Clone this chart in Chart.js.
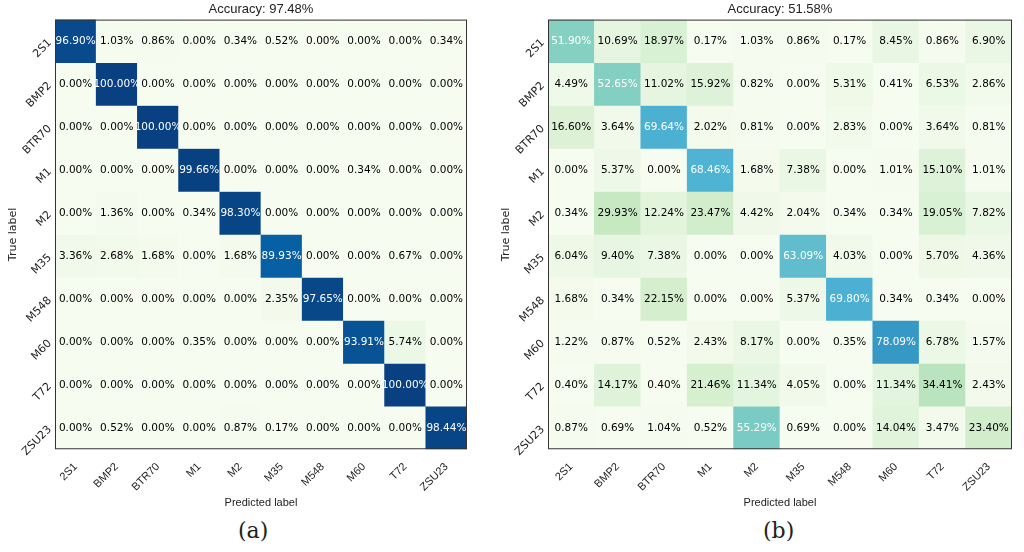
<!DOCTYPE html>
<html><head><meta charset="utf-8">
<script src="https://cdn.jsdelivr.net/npm/chart.js@4"></script>
<style>
body{margin:0;background:#fff;width:1024px;height:552px;position:relative;overflow:hidden;font-family:"DejaVu Sans",sans-serif}
.box{position:absolute;top:0;height:510px}
.cap{position:absolute;top:518px;font-family:"DejaVu Serif",serif;font-size:22px;color:#222}
</style></head><body>
<div class="box" style="left:0;width:475px"><canvas id="cmA"></canvas></div>
<div class="box" style="left:490px;width:530px"><canvas id="cmB"></canvas></div>
<div class="cap" style="left:238px">(a)</div>
<div class="cap" style="left:763px">(b)</div>
<script>
const classes = ['2S1', 'BMP2', 'BTR70', 'M1', 'M2', 'M35', 'M548', 'M60', 'T72', 'ZSU23'];
const matrixA = [
  [96.90, 1.03, 0.86, 0.00, 0.34, 0.52, 0.00, 0.00, 0.00, 0.34],
  [0.00, 100.00, 0.00, 0.00, 0.00, 0.00, 0.00, 0.00, 0.00, 0.00],
  [0.00, 0.00, 100.00, 0.00, 0.00, 0.00, 0.00, 0.00, 0.00, 0.00],
  [0.00, 0.00, 0.00, 99.66, 0.00, 0.00, 0.00, 0.34, 0.00, 0.00],
  [0.00, 1.36, 0.00, 0.34, 98.30, 0.00, 0.00, 0.00, 0.00, 0.00],
  [3.36, 2.68, 1.68, 0.00, 1.68, 89.93, 0.00, 0.00, 0.67, 0.00],
  [0.00, 0.00, 0.00, 0.00, 0.00, 2.35, 97.65, 0.00, 0.00, 0.00],
  [0.00, 0.00, 0.00, 0.35, 0.00, 0.00, 0.00, 93.91, 5.74, 0.00],
  [0.00, 0.00, 0.00, 0.00, 0.00, 0.00, 0.00, 0.00, 100.00, 0.00],
  [0.00, 0.52, 0.00, 0.00, 0.87, 0.17, 0.00, 0.00, 0.00, 98.44]
];
const matrixB = [
  [51.90, 10.69, 18.97, 0.17, 1.03, 0.86, 0.17, 8.45, 0.86, 6.90],
  [4.49, 52.65, 11.02, 15.92, 0.82, 0.00, 5.31, 0.41, 6.53, 2.86],
  [16.60, 3.64, 69.64, 2.02, 0.81, 0.00, 2.83, 0.00, 3.64, 0.81],
  [0.00, 5.37, 0.00, 68.46, 1.68, 7.38, 0.00, 1.01, 15.10, 1.01],
  [0.34, 29.93, 12.24, 23.47, 4.42, 2.04, 0.34, 0.34, 19.05, 7.82],
  [6.04, 9.40, 7.38, 0.00, 0.00, 63.09, 4.03, 0.00, 5.70, 4.36],
  [1.68, 0.34, 22.15, 0.00, 0.00, 5.37, 69.80, 0.34, 0.34, 0.00],
  [1.22, 0.87, 0.52, 2.43, 8.17, 0.00, 0.35, 78.09, 6.78, 1.57],
  [0.40, 14.17, 0.40, 21.46, 11.34, 4.05, 0.00, 11.34, 34.41, 2.43],
  [0.87, 0.69, 1.04, 0.52, 55.29, 0.69, 0.00, 14.04, 3.47, 23.40]
];
const titleA = 'Accuracy: 97.48%';
const titleB = 'Accuracy: 51.58%';

// GnBu colormap
const GNBU = ['#f7fcf0','#e0f3db','#ccebc5','#a8ddb5','#7bccc4','#4eb3d3','#2b8cbe','#0868ac','#084081'];
function hex(h){return [1,3,5].map(i=>parseInt(h.substr(i,2),16));}
function cmap(v, vmax){
  const t = Math.max(0, Math.min(1, v / vmax)) * (GNBU.length - 1);
  const i = Math.min(GNBU.length - 2, Math.floor(t)), f = t - i;
  const a = hex(GNBU[i]), b = hex(GNBU[i+1]);
  return 'rgb(' + a.map((c,k)=>Math.round(c+(b[k]-c)*f)).join(',') + ')';
}

const cellText = {
  id: 'cellText',
  afterDatasetsDraw(chart) {
    const ctx = chart.ctx, m = chart.config.options.plugins.cellText.matrix;
    ctx.save();
    ctx.font = '10.5px "DejaVu Sans"';
    ctx.textAlign = 'center'; ctx.textBaseline = 'middle';
    chart.data.datasets.forEach((ds, r) => {
      chart.getDatasetMeta(r).data.forEach((el, c) => {
        const v = m[r][c];
        ctx.fillStyle = v > 50 ? '#fff' : '#000';
        ctx.fillText(v.toFixed(2) + '%', el.x, (el.y + el.base) / 2);
      });
    });
    // rotated y labels
    const a = chart.chartArea, ys = chart.scales.y;
    ctx.font = '11px "DejaVu Sans"';
    ctx.fillStyle = '#222';
    ctx.textAlign = 'right';
    classes.forEach((lab, i) => {
      ctx.save();
      ctx.translate(a.left - 5, ys.getPixelForValue(i + 0.5));
      ctx.rotate(-Math.PI / 4);
      ctx.fillText(lab, 0, 0);
      ctx.restore();
    });
    ctx.save();
    ctx.translate(a.left - 42, (a.top + a.bottom) / 2);
    ctx.rotate(-Math.PI / 2);
    ctx.textAlign = 'center';
    ctx.fillText('True label', 0, 0);
    ctx.restore();
    ctx.strokeStyle = '#333'; ctx.lineWidth = 1;
    ctx.strokeRect(a.left + 0.5, a.top + 0.5, a.right - a.left - 1, a.bottom - a.top - 1);
    ctx.restore();
  }
};

function drawMatrix(id, matrix, title, leftPad, vmax) {
  const ctx = document.getElementById(id).getContext('2d');
  return new Chart(ctx, {
    type: 'bar',
    data: {
      labels: classes,
      datasets: matrix.map((row, r) => ({
        label: classes[r],
        data: row.map(() => 1),
        backgroundColor: row.map(v => cmap(v, vmax)),
        borderWidth: 0, barPercentage: 1, categoryPercentage: 1
      }))
    },
    options: {
      responsive: true, maintainAspectRatio: false, animation: false,
      layout: { padding: { left: leftPad, right: 8, top: 0 } },
      plugins: {
        legend: { display: false }, tooltip: { enabled: false },
        title: { display: true, text: title, color: '#222', font: { size: 13, weight: 'normal' }, padding: { top: 2, bottom: 2 } },
        cellText: { matrix }
      },
      scales: {
        x: {
          stacked: true, grid: { display: false }, border: { display: false },
          ticks: { color: '#222', font: { size: 11 }, minRotation: 45, maxRotation: 45 },
          title: { display: true, text: 'Predicted label', color: '#222', font: { size: 11 }, padding: 0 }
        },
        y: {
          stacked: true, reverse: true, min: 0, max: 10, display: false
        }
      }
    },
    plugins: [cellText]
  });
}

drawMatrix('cmA', matrixA, titleA, 55, 100);
drawMatrix('cmB', matrixB, titleB, 58, 110);
</script>
</body></html>
